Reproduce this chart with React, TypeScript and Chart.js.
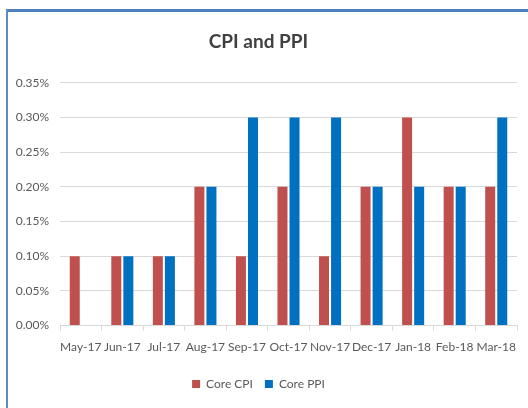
import React, { useEffect, useRef } from "react";
import { Chart, registerables } from "chart.js";

Chart.register(...registerables);

const categories = ["May-17", "Jun-17", "Jul-17", "Aug-17", "Sep-17", "Oct-17", "Nov-17", "Dec-17", "Jan-18", "Feb-18", "Mar-18"];
const coreCPI = [0.1, 0.1, 0.1, 0.2, 0.1, 0.2, 0.1, 0.2, 0.3, 0.2, 0.2];
const corePPI = [0, 0.1, 0.1, 0.2, 0.3, 0.3, 0.3, 0.2, 0.2, 0.2, 0.3];
const seriesNames = ["Core CPI", "Core PPI"];
const titleText = "CPI and PPI";
const yMin = 0;
const yMax = 0.35;
const yStep = 0.05;

const FONT = "Lato, 'Open Sans', sans-serif";

export default function App() {
  const ref = useRef<HTMLCanvasElement | null>(null);

  useEffect(() => {
    if (!ref.current) return;
    const chart = new Chart(ref.current, {
      type: "bar",
      data: {
        labels: categories,
        datasets: [
          {
            label: seriesNames[0],
            data: coreCPI,
            backgroundColor: "#C0504D",
            categoryPercentage: 0.58,
            barPercentage: 0.83,
          },
          {
            label: seriesNames[1],
            data: corePPI,
            backgroundColor: "#0070C0",
            categoryPercentage: 0.58,
            barPercentage: 0.83,
          },
        ],
      },
      options: {
        responsive: false,
        animation: false,
        layout: { padding: { left: 0, right: 11, top: 10, bottom: 8 } },
        plugins: {
          title: {
            display: true,
            text: titleText,
            color: "#404040",
            font: { family: FONT, size: 19, weight: "bold" },
            padding: { top: 20, bottom: 30 },
          },
          legend: {
            display: true,
            position: "bottom",
            labels: {
              boxWidth: 8,
              boxHeight: 8,
              color: "#595959",
              font: { family: FONT, size: 12 },
              padding: 12,
            },
          },
          tooltip: { enabled: false },
        },
        scales: {
          x: {
            afterFit: (s: any) => {
              s.height += 3;
            },
            grid: {
              display: true,
              drawOnChartArea: false,
              drawTicks: true,
              tickLength: 5,
              color: "#D9D9D9",
            },
            border: { display: true, color: "#D9D9D9" },
            ticks: {
              color: "#595959",
              font: { family: FONT, size: 12 },
              padding: 9,
              maxRotation: 0,
              autoSkip: false,
            },
          },
          y: {
            min: yMin,
            max: yMax,
            afterFit: (s: any) => {
              s.width = 60;
            },
            grid: { color: "#D9D9D9", drawTicks: false },
            border: { display: false },
            ticks: {
              stepSize: yStep,
              color: "#595959",
              font: { family: FONT, size: 12 },
              padding: 11,
              callback: (v: any) => Number(v).toFixed(2) + "%",
            },
          },
        },
      },
    });
    return () => chart.destroy();
  }, []);

  return (
    <div style={{ position: "fixed", left: 0, top: 0, width: 528, height: 408, background: "#fff" }}>
      <canvas ref={ref} width={528} height={408} style={{ position: "absolute", left: 0, top: 0 }} />
      <div style={{ position: "absolute", left: 6, top: 9, width: 522, height: 3, background: "#4F7FBD" }} />
      <div style={{ position: "absolute", left: 6, top: 9, width: 2, height: 399, background: "#5B8BCB" }} />
    </div>
  );
}
